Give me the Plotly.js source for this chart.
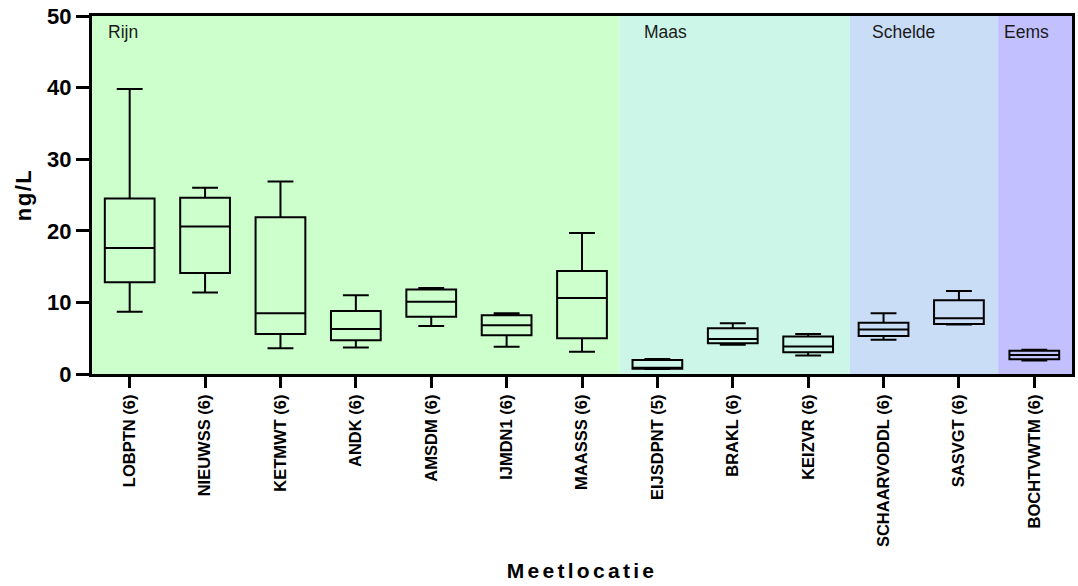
<!DOCTYPE html>
<html>
<head>
<meta charset="utf-8">
<script src="https://cdn.plot.ly/plotly-3.0.1.min.js"></script>
<style>
html, body { margin: 0; padding: 0; background: #ffffff; }
#chart { width: 1078px; height: 586px; }
.xtitle { letter-spacing: 3.3px; }
.ytitle { letter-spacing: 1.5px; }
</style>
</head>
<body>
<div id="chart"></div>
<script>
// Locations (n samples)
const locations = ["LOBPTN (6)", "NIEUWSS (6)", "KETMWT (6)", "ANDK (6)", "AMSDM (6)", "IJMDN1 (6)", "MAASSS (6)",
                   "EIJSDPNT (5)", "BRAKL (6)", "KEIZVR (6)", "SCHAARVODDL (6)", "SASVGT (6)", "BOCHTVWTM (6)"];
// Box statistics, ng/L
const minValues    = [8.7, 11.4, 3.6, 3.7, 6.7, 3.8, 3.1, 0.7, 4.1, 2.6, 4.8, 6.9, 1.9];
const q1Values     = [12.8, 14.1, 5.6, 4.7, 8.0, 5.4, 5.0, 0.75, 4.3, 3.05, 5.3, 7.0, 2.07];
const medianValues = [17.6, 20.6, 8.5, 6.3, 10.1, 6.8, 10.6, 0.85, 4.9, 3.85, 6.2, 7.8, 2.65];
const q3Values     = [24.5, 24.6, 21.9, 8.8, 11.8, 8.2, 14.4, 1.95, 6.4, 5.25, 7.15, 10.3, 3.25];
const maxValues    = [39.8, 26.0, 26.9, 11.0, 12.0, 8.5, 19.7, 2.1, 7.1, 5.6, 8.5, 11.6, 3.37];

// River basin regions and background colours
const regionNames  = ["Rijn", "Maas", "Schelde", "Eems"];
const regionColors = ["#ccffcc", "#ccf7e8", "#c9ddf7", "#c2c0ff"];

const yTickValues = [0, 10, 20, 30, 40, 50];

const trace = {
  type: "box",
  x: locations,
  q1: q1Values,
  median: medianValues,
  q3: q3Values,
  lowerfence: minValues,
  upperfence: maxValues,
  boxpoints: false,
  width: 0.66,
  whiskerwidth: 0.52,
  line: { color: "#000000", width: 2 },
  fillcolor: "rgba(0,0,0,0)",
  hoverinfo: "skip",
  showlegend: false
};

const boundaries = [-0.5, 6.5, 9.555, 11.52, 12.5];
const shapes = regionNames.map((name, i) => ({
  type: "rect", xref: "x", yref: "paper", layer: "below",
  x0: boundaries[i], x1: boundaries[i + 1], y0: 0, y1: 1,
  fillcolor: regionColors[i], line: { width: 0 }
}));
const labelOffset = [0.18, 0.29, 0.27, 0.05];
const annotations = regionNames.map((name, i) => ({
  text: name, xref: "x", yref: "paper",
  x: boundaries[i] + labelOffset[i], y: 0.955,
  xanchor: "left", yanchor: "middle", showarrow: false,
  font: { family: "Liberation Sans, Arial, sans-serif", size: 17.5, color: "#1a1a1a" }
}));

const layout = {
  width: 1078, height: 586,
  margin: { l: 92, r: 6, t: 16, b: 212 },
  paper_bgcolor: "#ffffff",
  plot_bgcolor: "#ffffff",
  showlegend: false,
  shapes: shapes,
  annotations: annotations,
  xaxis: {
    type: "category",
    range: [-0.5, 12.5],
    showgrid: false, zeroline: false,
    showline: true, linecolor: "#000000", linewidth: 3, mirror: true,
    ticks: "outside", ticklen: 11, tickwidth: 3, tickcolor: "#000000",
    tickangle: -90,
    tickfont: { family: "Liberation Sans, Arial, sans-serif", size: 16.5, color: "#000000", weight: "bold" },
    title: { text: "<b>Meetlocatie</b>", standoff: 18,
             font: { family: "Liberation Sans, Arial, sans-serif", size: 21, color: "#000000" } }
  },
  yaxis: {
    range: [0, 50],
    tickvals: yTickValues,
    showgrid: false, zeroline: false,
    showline: true, linecolor: "#000000", linewidth: 3, mirror: true,
    ticks: "outside", ticklen: 13, tickwidth: 3, tickcolor: "#000000",
    tickfont: { family: "Liberation Sans, Arial, sans-serif", size: 22, color: "#000000", weight: "bold" },
    title: { text: "<b>ng/L</b>", standoff: 10,
             font: { family: "Liberation Sans, Arial, sans-serif", size: 22, color: "#000000" } }
  }
};

Plotly.newPlot("chart", [trace], layout, { displayModeBar: false, staticPlot: true });
</script>
</body>
</html>
